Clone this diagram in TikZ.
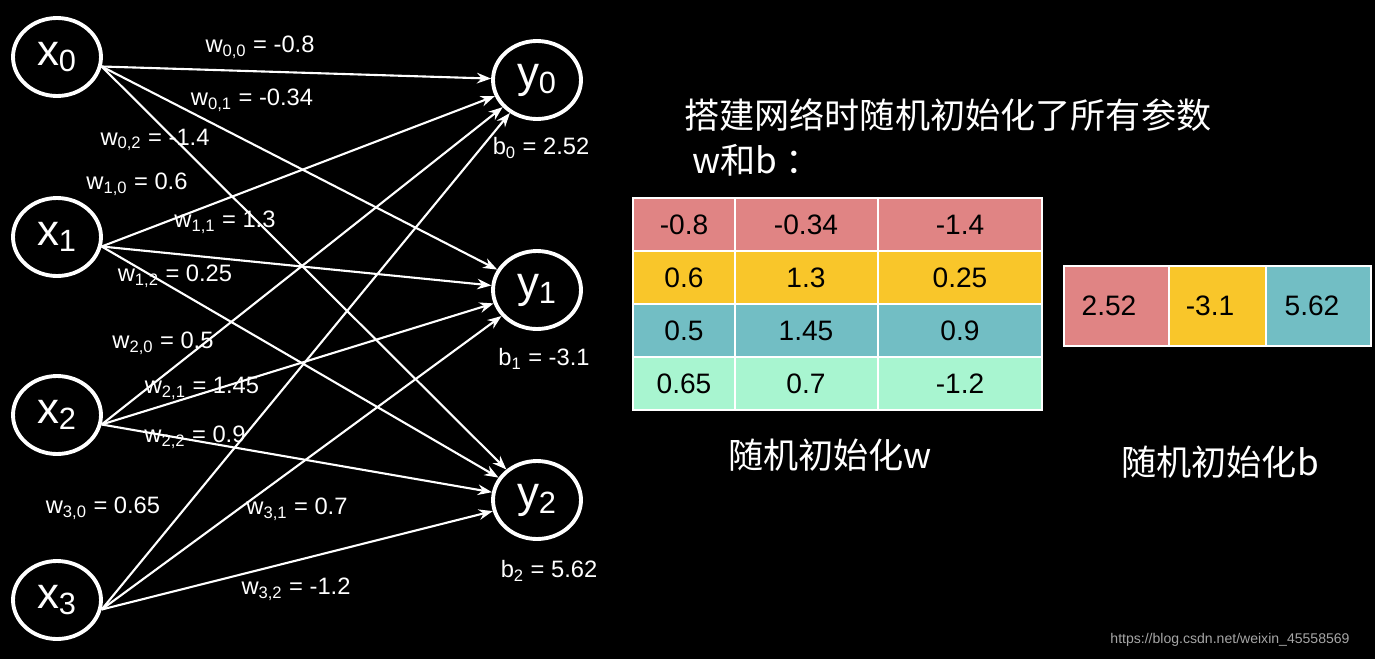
\documentclass[tikz,border=0pt]{standalone}
\usepackage{fontspec}
\setmainfont{Liberation Sans}
\newfontfamily\cjk{Noto Sans CJK SC}
\usetikzlibrary{shapes.geometric,arrows.meta}
\definecolor{cr}{HTML}{E08484}
\definecolor{cy}{HTML}{F9C62A}
\definecolor{ct}{HTML}{72BEC4}
\definecolor{cm}{HTML}{A8F5D0}
\newcommand{\sbs}[1]{\textsubscript{#1}}
\begin{document}
\begin{tikzpicture}[x=0.02cm,y=-0.02cm,
 neur/.style={ellipse,draw=white,line width=2.2pt,minimum width=1.76cm,minimum height=1.56cm,text=white,font=\fontsize{25}{27}\selectfont},
 con/.style={white,line width=1.2pt,-{Stealth[length=8pt,width=6pt]}},
 lab/.style={text=white,font=\fontsize{13.5}{15}\selectfont,inner sep=0},
 cjkt/.style={text=white,font=\cjk\fontsize{20}{22}\selectfont},
 cell/.style={draw=white,line width=1.2pt}]
\fill[black] (0,0) rectangle (1375,659);
\useasboundingbox (0,0) rectangle (1375,659);
\node[neur] (x0) at (57,57) {x\sbs{0}};
\node[neur] (x1) at (57,237) {x\sbs{1}};
\node[neur] (x2) at (57,415) {x\sbs{2}};
\node[neur] (x3) at (57,600) {x\sbs{3}};
\node[neur] (y0) at (537,80) {y\sbs{0}};
\node[neur] (y1) at (537,290) {y\sbs{1}};
\node[neur] (y2) at (537,500) {y\sbs{2}};
\foreach \i in {0,1,2,3}{\foreach \j in {0,1,2}{\draw[con] (x\i.-12) -- (y\j);}}
\node[lab] (l00) at (260,47) {w\sbs{0,0} = -0.8};
\node[lab] (l01) at (252,100) {w\sbs{0,1} = -0.34};
\node[lab] (l02) at (155,140) {w\sbs{0,2} = -1.4};
\node[lab] (l10) at (137,184) {w\sbs{1,0} = 0.6};
\node[lab] (l11) at (225,222) {w\sbs{1,1} = 1.3};
\node[lab] (l12) at (175,276) {w\sbs{1,2} = 0.25};
\node[lab] (l20) at (163,343) {w\sbs{2,0} = 0.5};
\node[lab] (l21) at (202,388) {w\sbs{2,1} = 1.45};
\node[lab] (l22) at (195,437) {w\sbs{2,2} = 0.9};
\node[lab] (l30) at (103,508) {w\sbs{3,0} = 0.65};
\node[lab] (l31) at (297,509) {w\sbs{3,1} = 0.7};
\node[lab] (l32) at (296,589) {w\sbs{3,2} = -1.2};
\node[lab] (b0) at (541,148) {b\sbs{0} = 2.52};
\node[lab] (b1) at (544,359) {b\sbs{1} = -3.1};
\node[lab] (b2) at (549,571) {b\sbs{2} = 5.62};
\node[cjkt,anchor=west] (t1) at (678,115) {搭建网络时随机初始化了所有参数};
\node[cjkt,anchor=west] (t2) at (686,160) {w和b ：};
\foreach \r/\c/\a/\b [count=\k from 0] in {cr/{-0.8}/{-0.34}/{-1.4}, cy/0.6/1.3/0.25, ct/0.5/1.45/0.9, cm/0.65/0.7/{-1.2}}{
 \pgfmathsetmacro\ya{198+53*\k}\pgfmathsetmacro\yb{251+53*\k}
 \draw[cell,fill=\r] (633,\ya) rectangle (735,\yb);
 \draw[cell,fill=\r] (735,\ya) rectangle (878,\yb);
 \draw[cell,fill=\r] (878,\ya) rectangle (1042,\yb);
 \node[font=\fontsize{16}{18}\selectfont] at (684,{(\ya+\yb)/2}) {\c};
 \node[font=\fontsize{16}{18}\selectfont] at (806,{(\ya+\yb)/2}) {\a};
 \node[font=\fontsize{16}{18}\selectfont] at (960,{(\ya+\yb)/2}) {\b};
}
\draw[cell,fill=cr] (1064,266) rectangle (1169,346);
\draw[cell,fill=cy] (1169,266) rectangle (1266,346);
\draw[cell,fill=ct] (1266,266) rectangle (1371,346);
\node[font=\fontsize{16}{18}\selectfont] (c1) at (1109,306) {2.52};
\node[font=\fontsize{16}{18}\selectfont] (c2) at (1210,306) {-3.1};
\node[font=\fontsize{16}{18}\selectfont] (c3) at (1312,306) {5.62};
\node[cjkt] (tw) at (830,455) {随机初始化w};
\node[cjkt] (tb) at (1220,462) {随机初始化b};
\node[text=gray!70,font=\fontsize{8}{9}\selectfont] (url) at (1230,640) {https://blog.csdn.net/weixin\_45558569};
\end{tikzpicture}
\end{document}
